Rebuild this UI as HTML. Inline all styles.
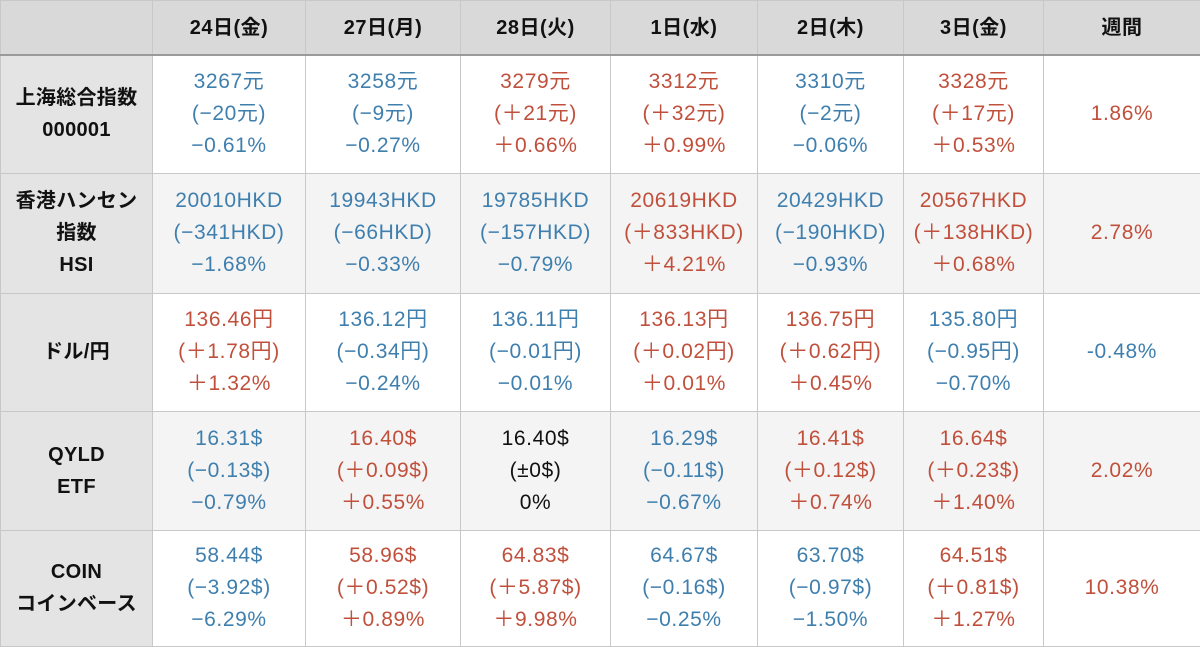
<!DOCTYPE html>
<html><head><meta charset="utf-8"><style>
body{margin:0;width:1200px;height:646px;overflow:hidden;background:#fff;font-family:"Liberation Sans","Noto Sans CJK JP",sans-serif}
table{border-collapse:collapse;table-layout:fixed;width:1201px;position:absolute;left:0;top:0}
td,th{border:1px solid #c8c8c8;text-align:center;vertical-align:middle;padding:0;font-size:21px;line-height:32px;letter-spacing:0.6px;white-space:nowrap}
th{background:#d9d9d9;font-weight:bold;height:53px;color:#111;border-bottom:2px solid #9a9a9a;font-size:20px;letter-spacing:0.5px}
td.h{background:#e4e4e4;font-weight:bold;color:#111;font-size:20px;letter-spacing:0.3px}
tr.g td{background:#f4f4f4}
tr.g td.h{background:#e4e4e4}
.b{color:#3f7fae}.r{color:#c0503c}.k{color:#111}
</style></head><body>
<table>
<colgroup><col style="width:152px"><col style="width:153px"><col style="width:155px"><col style="width:150px"><col style="width:147px"><col style="width:146px"><col style="width:140px"><col style="width:157px"></colgroup>
<tr><th></th><th>24日(金)</th><th>27日(月)</th><th>28日(火)</th><th>1日(水)</th><th>2日(木)</th><th>3日(金)</th><th>週間</th></tr>
<tr style="height:118px"><td class="h">上海総合指数<br>000001</td>
<td class="b">3267元<br>(−20元)<br>−0.61%</td><td class="b">3258元<br>(−9元)<br>−0.27%</td><td class="r">3279元<br>(＋21元)<br>＋0.66%</td><td class="r">3312元<br>(＋32元)<br>＋0.99%</td><td class="b">3310元<br>(−2元)<br>−0.06%</td><td class="r">3328元<br>(＋17元)<br>＋0.53%</td><td class="r">1.86%</td></tr>
<tr class="g" style="height:120px"><td class="h">香港ハンセン<br>指数<br>HSI</td>
<td class="b">20010HKD<br>(−341HKD)<br>−1.68%</td><td class="b">19943HKD<br>(−66HKD)<br>−0.33%</td><td class="b">19785HKD<br>(−157HKD)<br>−0.79%</td><td class="r">20619HKD<br>(＋833HKD)<br>＋4.21%</td><td class="b">20429HKD<br>(−190HKD)<br>−0.93%</td><td class="r">20567HKD<br>(＋138HKD)<br>＋0.68%</td><td class="r">2.78%</td></tr>
<tr style="height:118px"><td class="h">ドル/円</td>
<td class="r">136.46円<br>(＋1.78円)<br>＋1.32%</td><td class="b">136.12円<br>(−0.34円)<br>−0.24%</td><td class="b">136.11円<br>(−0.01円)<br>−0.01%</td><td class="r">136.13円<br>(＋0.02円)<br>＋0.01%</td><td class="r">136.75円<br>(＋0.62円)<br>＋0.45%</td><td class="b">135.80円<br>(−0.95円)<br>−0.70%</td><td class="b">-0.48%</td></tr>
<tr class="g" style="height:119px"><td class="h">QYLD<br>ETF</td>
<td class="b">16.31$<br>(−0.13$)<br>−0.79%</td><td class="r">16.40$<br>(＋0.09$)<br>＋0.55%</td><td class="k">16.40$<br>(±0$)<br>0%</td><td class="b">16.29$<br>(−0.11$)<br>−0.67%</td><td class="r">16.41$<br>(＋0.12$)<br>＋0.74%</td><td class="r">16.64$<br>(＋0.23$)<br>＋1.40%</td><td class="r">2.02%</td></tr>
<tr style="height:116px"><td class="h">COIN<br>コインベース</td>
<td class="b">58.44$<br>(−3.92$)<br>−6.29%</td><td class="r">58.96$<br>(＋0.52$)<br>＋0.89%</td><td class="r">64.83$<br>(＋5.87$)<br>＋9.98%</td><td class="b">64.67$<br>(−0.16$)<br>−0.25%</td><td class="b">63.70$<br>(−0.97$)<br>−1.50%</td><td class="r">64.51$<br>(＋0.81$)<br>＋1.27%</td><td class="r">10.38%</td></tr>
</table>
</body></html>
